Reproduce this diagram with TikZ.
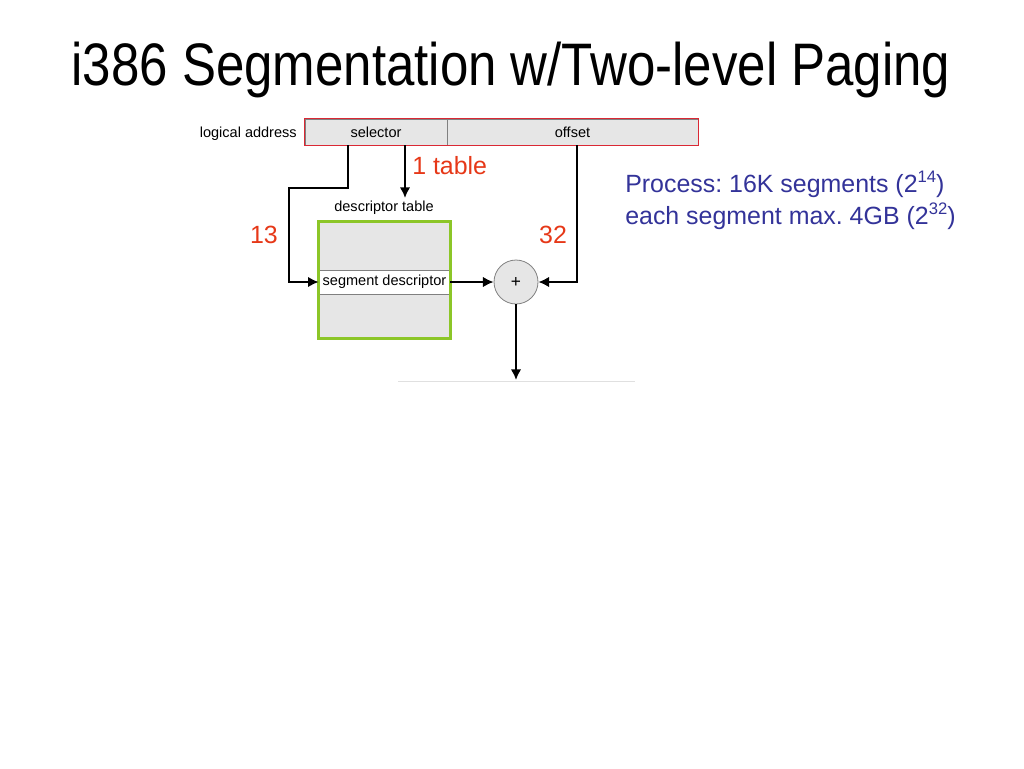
\documentclass[tikz,border=0pt]{standalone}
\usepackage{fontspec}
\setmainfont{Liberation Sans}
\usepackage{xcolor}
\usetikzlibrary{calc, positioning, arrows.meta}
\definecolor{lblred}{RGB}{230,56,24}
\definecolor{txtblue}{RGB}{51,51,153}
\definecolor{tblgreen}{RGB}{140,198,40}
\definecolor{boxred}{RGB}{218,40,52}
\definecolor{cellgray}{RGB}{230,230,230}
\newcommand{\supnum}[1]{\raisebox{0.38em}{\fontsize{12.5}{13}\selectfont #1}}
\frenchspacing

\begin{document}
\begin{tikzpicture}[x=0.75pt, y=-0.75pt,
	small/.style={font=\fontsize{10.9}{13}\selectfont, inner sep=0pt},
	big/.style={font=\fontsize{18.7}{22}\selectfont, inner sep=0pt},
	field/.style={fill=cellgray, draw=gray, line width=0.5pt, minimum height=26*0.75pt, inner sep=0pt, font=\fontsize{10.9}{13}\selectfont},
	conn/.style={line width=2pt, -{Latex[length=8pt, width=8pt]}}]
	\useasboundingbox (0,0) rectangle (1024,768);
	
	\node [anchor=base, inner sep=0pt, font=\fontsize{45}{54}\selectfont] (title) at (511,85) {\scalebox{0.85}[1]{i386 Segmentation w/Two-level Paging}};
	
	% logical address
	\node [field, minimum width=142*0.75pt] (sel) at (376,132) {selector};
	\node [field, minimum width=251*0.75pt] (off) at (572.5,132) {offset};
	\draw [boxred, line width=1pt] (sel.north west) rectangle (off.south east);
	\node [small, anchor=east] (la) at (297,134) {logical address};
	
	% descriptor table
	\node [fill=cellgray, minimum width=131*0.75pt, minimum height=116*0.75pt, inner sep=0pt] (dtab) at (384.5,280) {};
	\node [fill=white, draw=gray, line width=0.5pt, minimum width=131*0.75pt, minimum height=24*0.75pt, inner sep=0pt, font=\fontsize{10.9}{13}\selectfont] (segd) at (384.5,282) {segment descriptor};
	\draw [tblgreen, line width=2.25pt] (dtab.north west) rectangle (dtab.south east);
	\node [small] (dlbl) at (384,208) {descriptor table};
	
	\node [circle, fill=cellgray, draw=gray, line width=0.6pt, minimum size=44*0.75pt, inner sep=0pt, font=\fontsize{13}{14}\selectfont] (plus) at (516,282) {+};
	
	\coordinate (tabtip) at (405,198);
	\coordinate (selidx) at (348,188);
	\coordinate (selbend) at (289,188);
	\coordinate (offtap) at (577,188);
	\coordinate (out) at (516,380);
	
	\draw [conn] (sel.south -| tabtip) -- (tabtip);
	\draw [conn] (sel.south -| selidx) -- (selidx) -- (selbend) |- (segd.west);
	\draw [conn] (segd.east) -- (plus.west);
	\draw [conn] (off.south -| offtap) |- (plus.east);
	\draw [conn] (plus.south) -- (out);
	\draw [black!12, line width=0.6pt] (398,381) -- (635,381);
	
	\node [big, lblred, anchor=west] (ntab) at (412,166) {1 table};
	\node [big, lblred] (nsel) at (264,235) {13};
	\node [big, lblred] (noff) at (553,235) {32};
	
	\node [big, txtblue, anchor=base west] (proc) at (625,192) {Process: 16K segments (2\supnum{14})};
	\node [big, txtblue, anchor=base west] (segmax) at (625,224) {each segment max. 4GB (2\supnum{32})};
\end{tikzpicture}
\end{document}
